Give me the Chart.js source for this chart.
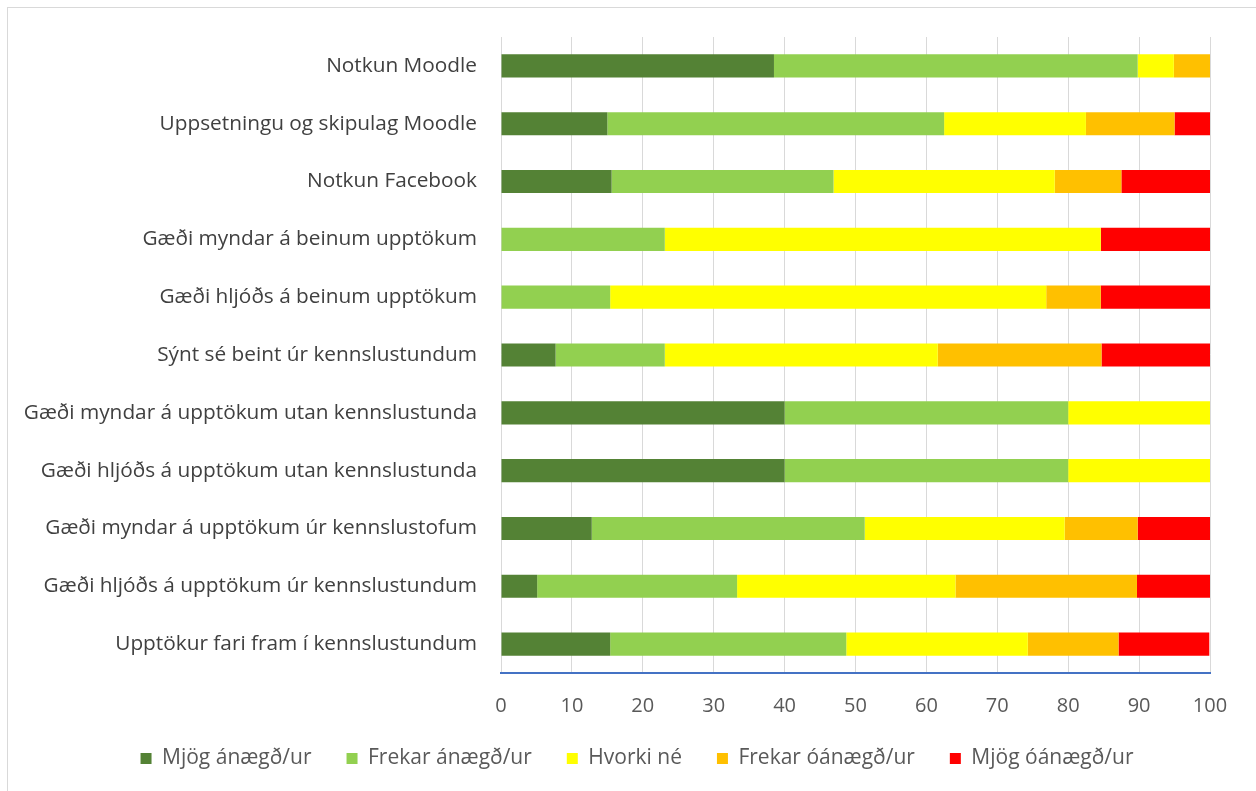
<!DOCTYPE html>
<html>
<head>
<meta charset="utf-8">
<script src="https://cdn.jsdelivr.net/npm/chart.js@4.4.1/dist/chart.umd.min.js"></script>
<style>
    html, body { margin: 0; padding: 0; background: #fff; }
    #wrap { position: relative; width: 1256px; height: 791px; overflow: hidden; }
    #frame { position: absolute; left: 7px; top: 7px; width: 1260px; height: 800px; border: 1px solid #d9d9d9; box-sizing: border-box; }
    canvas { position: absolute; left: 0; top: 0; }
</style>
</head>
<body>
<div id="wrap">
    <div id="frame"></div>
    <canvas id="chart" width="1256" height="791"></canvas>
</div>
<script>
// Categories (top to bottom)
const categories = [
    'Notkun Moodle',
    'Uppsetningu og skipulag Moodle',
    'Notkun Facebook',
    'Gæði myndar á beinum upptökum',
    'Gæði hljóðs á beinum upptökum',
    'Sýnt sé beint úr kennslustundum',
    'Gæði myndar á upptökum utan kennslustunda',
    'Gæði hljóðs á upptökum utan kennslustunda',
    'Gæði myndar á upptökum úr kennslustofum',
    'Gæði hljóðs á upptökum úr kennslustundum',
    'Upptökur fari fram í kennslustundum'
];

// Series values (percent)
const mjogAnaegd    = [38.5, 15.0, 15.6, 0,    0,    7.7,  40, 40, 12.8, 5.1,  15.4];
const frekarAnaegd  = [51.3, 47.5, 31.3, 23.1, 15.4, 15.4, 40, 40, 38.5, 28.2, 33.3];
const hvorkiNe      = [5.1,  20.0, 31.2, 61.5, 61.5, 38.5, 20, 20, 28.2, 30.8, 25.6];
const frekarOanaegd = [5.1,  12.5, 9.4,  0,    7.7,  23.1, 0,  0,  10.3, 25.6, 12.8];
const mjogOanaegd   = [0,    5.0,  12.5, 15.4, 15.4, 15.4, 0,  0,  10.3, 10.3, 12.8];

const seriesNames = ['Mjög ánægð/ur', 'Frekar ánægð/ur', 'Hvorki né', 'Frekar óánægð/ur', 'Mjög óánægð/ur'];
const seriesColors = ['#548235', '#92D050', '#FFFF00', '#FFC000', '#FF0000'];

// X axis ticks
const xMin = 0;
const xMax = 100;
const xStep = 10;

const seriesData = [mjogAnaegd, frekarAnaegd, hvorkiNe, frekarOanaegd, mjogOanaegd];

const FONT = "'Open Sans', 'Liberation Sans', sans-serif";

const datasets = seriesNames.map((name, i) => ({
    label: name,
    data: seriesData[i],
    backgroundColor: seriesColors[i],
    borderWidth: 0,
    categoryPercentage: 1.0,
    barPercentage: 0.4
}));

// nudge the legend so it centres like the original
const legendShift = {
    id: 'legendShift',
    afterLayout(chart) {
        if (chart.legend) chart.legend.left += 64;
    }
};

new Chart(document.getElementById('chart'), {
    type: 'bar',
    data: {
        labels: categories,
        datasets: datasets
    },
    plugins: [legendShift],
    options: {
        indexAxis: 'y',
        responsive: false,
        animation: false,
        layout: {
            padding: { top: 37, right: 46, bottom: 12, left: 0 }
        },
        plugins: {
            legend: {
                position: 'bottom',
                labels: {
                    boxWidth: 11,
                    boxHeight: 11,
                    padding: 35,
                    color: '#595959',
                    font: { family: FONT, size: 21 }
                }
            },
            tooltip: { enabled: false }
        },
        scales: {
            x: {
                stacked: true,
                min: xMin,
                max: xMax,
                ticks: {
                    stepSize: xStep,
                    color: '#595959',
                    padding: 21,
                    font: { family: FONT, size: 20 }
                },
                grid: {
                    color: '#d9d9d9',
                    lineWidth: 1,
                    drawTicks: false
                },
                border: {
                    color: '#4472C4',
                    width: 2
                },
                afterFit: function(scale) {
                    scale.height = 40;
                }
            },
            y: {
                stacked: true,
                ticks: {
                    color: '#404040',
                    padding: 24,
                    font: { family: FONT, size: 20.8 }
                },
                grid: {
                    display: false,
                    drawTicks: false
                },
                border: { display: false },
                afterFit: function(scale) {
                    scale.width = 501;
                }
            }
        }
    }
});
</script>
</body>
</html>
